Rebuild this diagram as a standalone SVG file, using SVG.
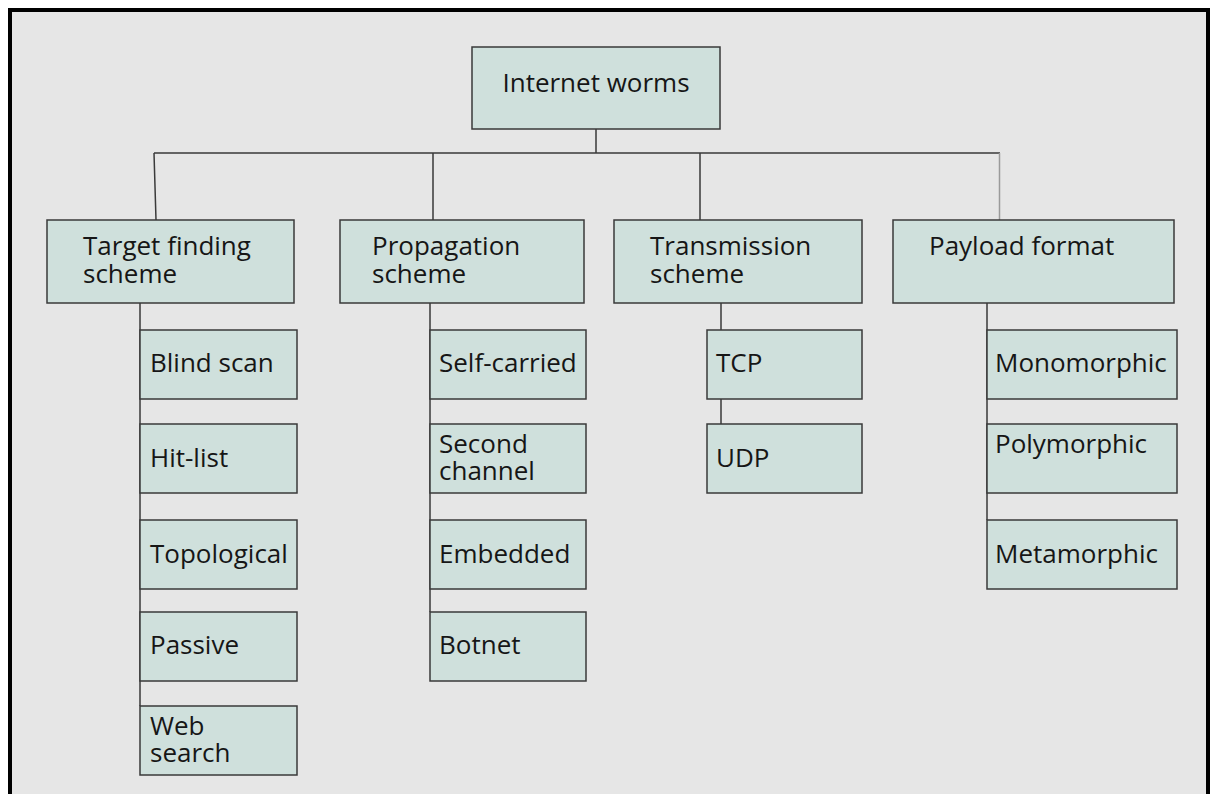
<svg xmlns="http://www.w3.org/2000/svg" width="1210" height="794" viewBox="0 0 1210 794">
<style>
.box{fill:#cfe0dc;stroke:#3a3a3a;stroke-width:1.5}
.t{font-family:"Open Sans","Noto Sans",sans-serif;font-size:26px;fill:#161616}
.c{stroke:#3a3a3a;stroke-width:1.5;fill:none}
</style>
<rect x="0" y="0" width="1210" height="794" fill="#ffffff"/>
<rect x="10" y="10" width="1198" height="800" fill="#e6e6e6" stroke="#000" stroke-width="4"/>
<g id="connectors">
<path class="c" d="M596 129V153M154 153H1000M154 153L156 220M433 153V220M700 153V220"/>
<path d="M999.5 153V220" stroke="#9a9a9a" stroke-width="1.5" fill="none"/>
<path class="c" d="M140 303V706M430 303V612M721 303V330M721 399V424M987 303V520"/>
</g>
<g id="root"><rect class="box" x="472" y="47" width="248" height="82"/><text class="t" x="596" y="92" text-anchor="middle">Internet worms</text></g>
<g id="target"><rect class="box" x="47" y="220" width="247" height="83"/><text class="t" x="83" y="255">Target finding<tspan x="83" dy="28">scheme</tspan></text></g>
<g id="propagation"><rect class="box" x="340" y="220" width="244" height="83"/><text class="t" x="372" y="255">Propagation<tspan x="372" dy="28">scheme</tspan></text></g>
<g id="transmission"><rect class="box" x="614" y="220" width="248" height="83"/><text class="t" x="650" y="255">Transmission<tspan x="650" dy="28">scheme</tspan></text></g>
<g id="payload"><rect class="box" x="893" y="220" width="281" height="83"/><text class="t" x="929" y="255">Payload format</text></g>
<g id="blind"><rect class="box" x="140" y="330" width="157" height="69"/><text class="t" x="150" y="372">Blind scan</text></g>
<g id="hitlist"><rect class="box" x="140" y="424" width="157" height="69"/><text class="t" x="150" y="467">Hit-list</text></g>
<g id="topological"><rect class="box" x="140" y="520" width="157" height="69"/><text class="t" x="150" y="563">Topological</text></g>
<g id="passive"><rect class="box" x="140" y="612" width="157" height="69"/><text class="t" x="150" y="654">Passive</text></g>
<g id="websearch"><rect class="box" x="140" y="706" width="157" height="69"/><text class="t" x="150" y="735">Web<tspan x="150" dy="27">search</tspan></text></g>
<g id="selfcarried"><rect class="box" x="430" y="330" width="156" height="69"/><text class="t" x="439" y="372">Self-carried</text></g>
<g id="secondchannel"><rect class="box" x="430" y="424" width="156" height="69"/><text class="t" x="439" y="453">Second<tspan x="439" dy="27">channel</tspan></text></g>
<g id="embedded"><rect class="box" x="430" y="520" width="156" height="69"/><text class="t" x="439" y="563">Embedded</text></g>
<g id="botnet"><rect class="box" x="430" y="612" width="156" height="69"/><text class="t" x="439" y="654">Botnet</text></g>
<g id="tcp"><rect class="box" x="707" y="330" width="155" height="69"/><text class="t" x="716" y="372">TCP</text></g>
<g id="udp"><rect class="box" x="707" y="424" width="155" height="69"/><text class="t" x="716" y="467">UDP</text></g>
<g id="monomorphic"><rect class="box" x="987" y="330" width="190" height="69"/><text class="t" x="995" y="372">Monomorphic</text></g>
<g id="polymorphic"><rect class="box" x="987" y="424" width="190" height="69"/><text class="t" x="995" y="453">Polymorphic</text></g>
<g id="metamorphic"><rect class="box" x="987" y="520" width="190" height="69"/><text class="t" x="995" y="563">Metamorphic</text></g>
</svg>
